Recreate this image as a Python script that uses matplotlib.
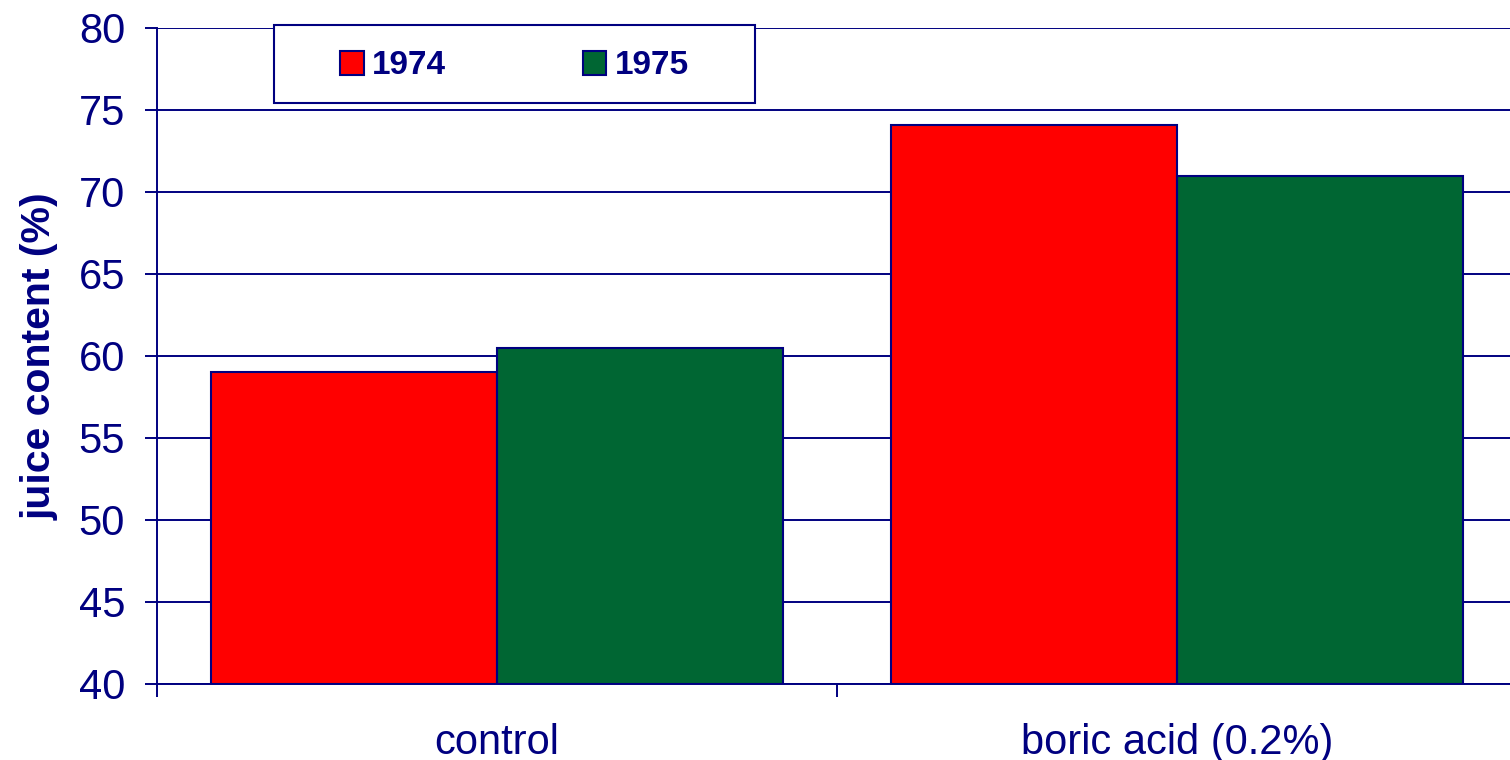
import matplotlib
matplotlib.use("Agg")
import matplotlib.pyplot as plt
from matplotlib.patches import Rectangle
import numpy as np

# data
categories = ["control", "boric acid (0.2%)"]
years = ["1974", "1975"]
juice_1974 = [59.0, 74.1]
juice_1975 = [60.5, 71.0]

navy = "#000080"
red = "#FF0000"
green = "#006633"

plt.rcParams["font.family"] = ["Liberation Sans", "DejaVu Sans"]

fig = plt.figure(figsize=(15.1, 7.6), dpi=100)
W, H = 1510, 760
ax = fig.add_axes([157 / W, 76 / H, 1360 / W, 656 / H])

x = np.arange(len(categories))
w = 0.42
b1 = ax.bar(x - w / 2, np.array(juice_1974) - 40, w, bottom=40, color=red,
            edgecolor=navy, linewidth=1.5, zorder=3, label=years[0])
b2 = ax.bar(x + w / 2, np.array(juice_1975) - 40, w, bottom=40, color=green,
            edgecolor=navy, linewidth=1.5, zorder=3, label=years[1])

ax.set_xlim(-0.5, 1.5)
ax.set_ylim(40, 80)
ax.set_yticks(range(40, 81, 5))
ax.yaxis.grid(True, color=navy, linewidth=1.4, zorder=0)
ax.set_axisbelow(True)

ax.set_xticks(x)
ax.set_xticklabels(categories)
ax.set_xticks([-0.5, 0.5, 1.5], minor=True)
ax.tick_params(axis="x", which="major", length=0, pad=28, labelsize=30, labelcolor=navy)
ax.tick_params(axis="x", which="minor", length=9, width=1.4, color=navy, direction="out")
ax.tick_params(axis="y", length=9, width=1.4, color=navy, pad=14, labelsize=30, labelcolor=navy)

for s in ["top", "right"]:
    ax.spines[s].set_visible(False)
for s in ["left", "bottom"]:
    ax.spines[s].set_color(navy)
    ax.spines[s].set_linewidth(1.4)
    ax.spines[s].set_zorder(4)

ax.set_ylabel("juice content (%)", fontsize=29.5, fontweight="bold", color=navy, labelpad=14)

# legend box
fig.patches.append(Rectangle((274 / W, 1 - 103 / H), 481 / W, 78 / H, transform=fig.transFigure,
                             facecolor="white", edgecolor=navy, linewidth=1.5, zorder=4))
leg = fig.legend(handles=[b1, b2], labels=years, loc="center",
                 bbox_to_anchor=((274 + 481 / 2) / W, 1 - 66 / H), ncol=2, frameon=False,
                 handlelength=0.7, handleheight=0.7, handletextpad=0.25, columnspacing=4.1,
                 prop={"size": 24, "weight": "bold"})
for t in leg.get_texts():
    t.set_color(navy)
leg.set_zorder(5)

fig.savefig("out.png", dpi=100)
